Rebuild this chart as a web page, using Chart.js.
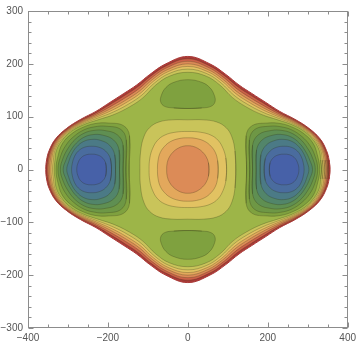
<!DOCTYPE html>
<html>
<head>
<meta charset="utf-8">
<script src="https://cdn.jsdelivr.net/npm/chart.js@4.4.1/dist/chart.umd.min.js"></script>
<style>
  body { margin: 0; background: #fff; }
  canvas { display: block; }
</style>
</head>
<body>
<canvas id="contourChart" width="360" height="346"></canvas>
<script>
// Tick labels
const xTickLabels = [-400, -200, 0, 200, 400];
const yTickLabels = [-300, -200, -100, 0, 100, 200, 300];

// Level colours, lowest (well bottom) to highest (outer rim)
const levelColors = [
  '#4761a8', '#4a6c9e', '#4b7a86', '#52856a', '#5f8f52', '#6e9745', '#7fa13f',
  '#9db548', '#c9c45a', '#e2c262', '#e3a85c', '#dc8b57', '#cc6148', '#a93a37'
];

// Outer rim contours, first quadrant, from the x axis round to the y axis
const edgeOuter = [[355.5,0],[353.5,18],[347,36],[331,58],[303,78],[268,95],[230,110],[195,127],[160,144],[128,160],[95,180],[55,200],[0,214]];
const band13 = [[352.5,0],[350.5,18],[344.3,36],[328.6,57.6],[301.4,77.1],[266.8,93.5],[229.3,107.6],[193.5,123.6],[157.8,140.3],[125.6,156.4],[92.8,177],[53.5,196.6],[0,209.5]];
const band12 = [[349.5,0],[347.5,18],[341.4,36],[326,57.1],[299.6,76.1],[265.5,91.9],[228.5,105],[191.9,119.9],[155.4,136.3],[123,152.6],[90.4,173.8],[51.9,192.9],[0,204.7]];
const band11 = [[346,0],[344,18],[338.5,36],[323.5,56.6],[297.8,75.2],[264.2,90.3],[227.7,102.5],[190.3,116.2],[153,132.3],[120.5,148.7],[88,170.6],[50.3,189.2],[0,199.9]];
const band10 = [[342.5,0],[340.5,18],[335.7,36],[320.9,56.1],[296.1,74.2],[263,88.7],[226.9,99.9],[188.7,112.5],[150.6,128.3],[117.9,144.9],[85.6,167.4],[48.7,185.5],[0,195.1]];
const band9 = [[338.5,0],[336.5,18],[332.6,36],[318.2,55.6],[294.2,73.2],[261.6,87],[226,97.2],[187,108.6],[148,124],[115.2,140.8],[83,164],[47,181.6],[0,190]];
const plateau = [[334.5,0],[332.5,18],[329,36],[315,55],[292,72],[260,85],[225,94],[185,104],[145,119],[112,136],[80,160],[45,177],[0,184]];

// Central hill contours, first quadrant
const hill8 = [[120,0],[118,35],[110,62],[96,79],[72,90],[38,94],[0,94]];
const hill9 = [[97,0],[95,22],[88,40],[76,55],[58,65],[32,70.5],[0,72]];
const hill10 = [[76,0],[74.5,17],[69,32],[58,44],[43,53],[22,58.5],[0,60]];
const hill11 = [[53,0],[51.5,13],[46,24],[37,33],[25,40],[12,44],[0,45]];

// Top bump, right half from bottom to top
const bumpTop = [[0,115.5],[35,116.5],[58,119.5],[68,128],[66,141],[55,155],[35,165],[0,170]];

// Right well contours, upper half from inner side over the top to outer side
const well6 = [[147,0],[146,64],[161,83],[200,88],[232,87],[262,80],[290,68],[313,50],[324,28],[330,0]];
const well5 = [[155,0],[154,56],[168,76],[205,82],[232,81],[260,75],[286,62],[305,46],[318,26],[325,0]];
const well4 = [[162,0],[162,46],[177,66],[210,74],[235,74],[259,69],[282,57],[299,41],[312,22],[319,0]];
const well3 = [[171,0],[172,37],[186,56],[213,65],[238,66],[260,61],[279,50],[294,35],[305,18],[312,0]];
const well2 = [[181,0],[183,28],[196,46],[218,55],[240,57],[261,53],[278,43],[290,30],[298,15],[303,0]];
const well1 = [[191,0],[194,21],[206,35],[222,42],[241,44],[259,42],[274,35],[284,24],[289,12],[291,0]];
const well0 = [[204,0],[206,13],[215,23],[228,28],[241,29],[254,28],[266,23],[274,14],[278,0]];

const lineColor = 'rgba(45, 45, 20, 0.45)';

// Repeat the ends so the spline closes smoothly
function closeLoop(pts) {
  return [pts[pts.length - 1], ...pts, pts[0], pts[1]];
}

// Mirror a first-quadrant curve into all four quadrants
function quadLoop(q) {
  const pts = [];
  q.forEach(([x, y]) => pts.push({x: x, y: y}));
  q.slice(0, -1).reverse().forEach(([x, y]) => pts.push({x: -x, y: y}));
  q.slice(1).forEach(([x, y]) => pts.push({x: -x, y: -y}));
  q.slice(1, -1).reverse().forEach(([x, y]) => pts.push({x: x, y: -y}));
  return closeLoop(pts);
}

function wellLoop(w, side) {
  const upper = w.map(([x, y]) => ({x: side * x, y: y}));
  const lower = w.slice(1, -1).reverse().map(([x, y]) => ({x: side * x, y: -y}));
  return closeLoop(upper.concat(lower));
}

function bumpLoop(b, side) {
  const right = b.map(([x, y]) => ({x: x, y: side * y}));
  const left = b.slice(1, -1).reverse().map(([x, y]) => ({x: -x, y: side * y}));
  return closeLoop(right.concat(left));
}

const layers = [];
function addLayer(points, color, outline) {
  layers.push({
    data: points,
    backgroundColor: color,
    borderColor: outline ? lineColor : color,
    borderWidth: outline ? 0.6 : 1,
    fill: 'shape',
    showLine: true,
    tension: 0.4,
    pointRadius: 0,
    pointHoverRadius: 0
  });
}

addLayer(quadLoop(edgeOuter), levelColors[13], false);
addLayer(quadLoop(band13), levelColors[12], true);
addLayer(quadLoop(band12), levelColors[11], true);
addLayer(quadLoop(band11), levelColors[10], true);
addLayer(quadLoop(band10), levelColors[9], true);
addLayer(quadLoop(band9), levelColors[8], true);
addLayer(quadLoop(plateau), levelColors[7], true);

[hill8, hill9, hill10, hill11].forEach((h, i) => addLayer(quadLoop(h), levelColors[8 + i], true));

addLayer(bumpLoop(bumpTop, 1), levelColors[6], true);
addLayer(bumpLoop(bumpTop, -1), levelColors[6], true);

const wells = [well6, well5, well4, well3, well2, well1, well0];
[-1, 1].forEach((side) => {
  wells.forEach((w, i) => addLayer(wellLoop(w, side), levelColors[6 - i], true));
});

// first layer painted first
layers.forEach((l, i) => { l.order = layers.length - i; });

const fmt = (v) => (v < 0 ? '\u2212' + Math.abs(v) : String(v));

// Frame with inward ticks on all four sides
const frameTicks = {
  id: 'frameTicks',
  afterDraw(chart) {
    const {ctx, chartArea: a, scales: {x, y}} = chart;
    const left = Math.round(a.left) + 0.5;
    const right = Math.round(a.right) - 0.5;
    const top = Math.round(a.top) + 0.5;
    const bottom = Math.round(a.bottom) - 0.5;
    ctx.save();
    ctx.strokeStyle = '#8c8c8c';
    ctx.lineWidth = 1;
    ctx.strokeRect(left, top, right - left, bottom - top);
    ctx.beginPath();
    x.ticks.forEach((t) => {
      const len = t.value % 200 === 0 ? 5 : 3;
      const px = Math.round(x.getPixelForValue(t.value)) + 0.5;
      ctx.moveTo(px, bottom); ctx.lineTo(px, bottom - len);
      ctx.moveTo(px, top); ctx.lineTo(px, top + len);
    });
    y.ticks.forEach((t) => {
      const len = t.value % 100 === 0 ? 5 : 3;
      const py = Math.round(y.getPixelForValue(t.value)) + 0.5;
      ctx.moveTo(left, py); ctx.lineTo(left + len, py);
      ctx.moveTo(right, py); ctx.lineTo(right - len, py);
    });
    ctx.stroke();
    ctx.restore();
  }
};

const tickFont = {family: 'Liberation Sans', size: 10};

new Chart(document.getElementById('contourChart'), {
  type: 'scatter',
  data: {datasets: layers},
  options: {
    responsive: false,
    animation: false,
    devicePixelRatio: 1,
    layout: {padding: {top: 6, right: 10, left: 0, bottom: 0}},
    plugins: {legend: {display: false}, tooltip: {enabled: false}},
    events: [],
    scales: {
      x: {
        type: 'linear', min: -400, max: 400,
        ticks: {
          stepSize: 50, autoSkip: false, maxRotation: 0, padding: 4,
          color: '#555', font: tickFont,
          callback: (v) => (xTickLabels.includes(v) ? fmt(v) : '')
        },
        grid: {display: false, drawTicks: false},
        border: {display: false},
        afterFit(scale) { scale.height = 18; }
      },
      y: {
        type: 'linear', min: -300, max: 300,
        ticks: {
          stepSize: 20, autoSkip: false, padding: 5,
          color: '#555', font: tickFont,
          callback: (v) => (yTickLabels.includes(v) ? fmt(v) : '')
        },
        grid: {display: false, drawTicks: false},
        border: {display: false},
        afterFit(scale) { scale.width = 28; }
      }
    }
  },
  plugins: [frameTicks]
});
</script>
</body>
</html>
